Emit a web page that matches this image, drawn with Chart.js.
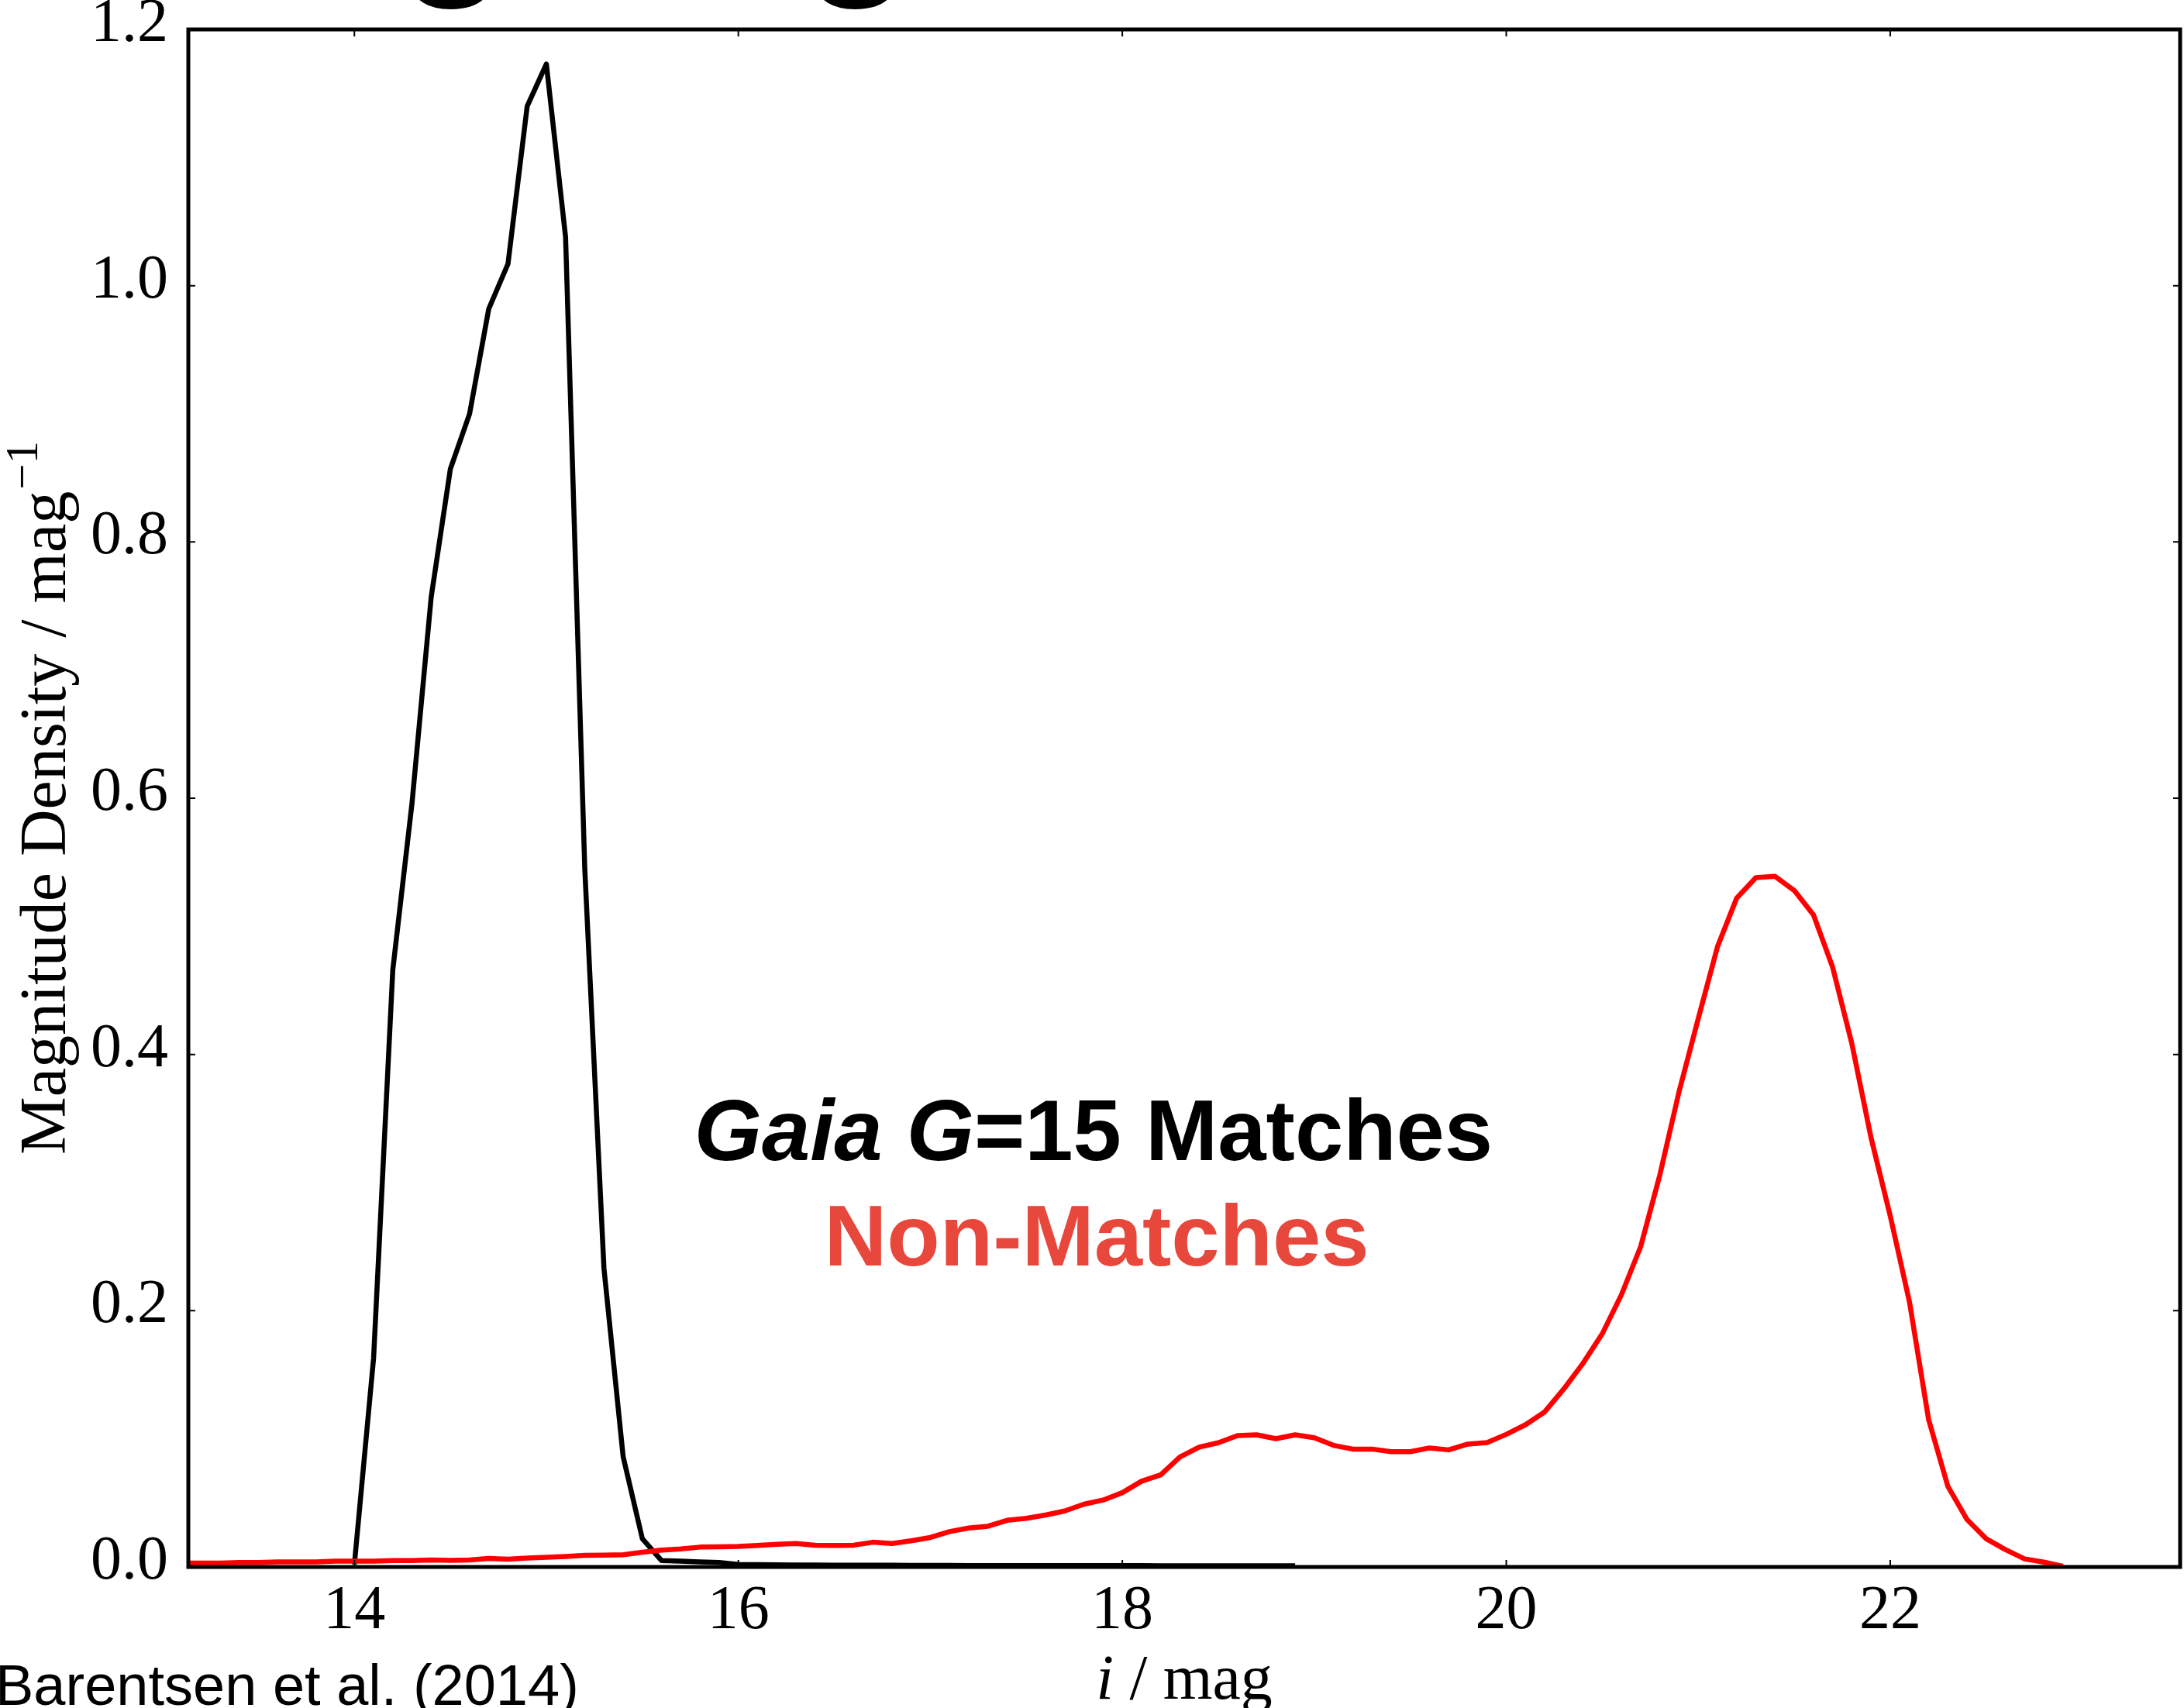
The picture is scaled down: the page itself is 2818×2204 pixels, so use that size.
<!DOCTYPE html>
<html>
<head>
<meta charset="utf-8">
<title>Magnitude density</title>
<script src="https://cdn.jsdelivr.net/npm/chart.js@4.4.1/dist/chart.umd.min.js"></script>
<style>
html, body { margin: 0; padding: 0; background: #fff; }
canvas { display: block; }
</style>
</head>
<body>
<canvas id="chartMag" width="2818" height="2204"></canvas>
<script>
// ==========================
// DATA
// ==========================

// Gaia G=15 matches (black)
const matchMag = [
  14.0, 14.1, 14.2, 14.3, 14.4, 14.5, 14.6, 14.7, 14.8, 14.9,
  15.0, 15.1, 15.2, 15.3, 15.4, 15.5, 15.6, 15.7, 15.8, 15.9,
  16.0, 16.1, 16.2, 16.3, 16.4, 16.5, 16.6, 16.7, 16.8, 16.9,
  17.0, 17.1, 17.2, 17.3, 17.4, 17.5, 17.6, 17.7, 17.8, 17.9,
  18.0, 18.1, 18.2, 18.3, 18.4, 18.5, 18.6, 18.7, 18.8, 18.9
];
const matchDensity = [
  0.002, 0.163, 0.466, 0.596, 0.757, 0.857, 0.900, 0.982, 1.017, 1.140,
  1.173, 1.038, 0.545, 0.233, 0.086, 0.022, 0.005, 0.0045, 0.004, 0.0035,
  0.002, 0.0018, 0.0016, 0.0015, 0.0015, 0.0014, 0.0014, 0.0013, 0.0013, 0.0012,
  0.0012, 0.0012, 0.0011, 0.0011, 0.0011, 0.001, 0.001, 0.001, 0.001, 0.001,
  0.001, 0.001, 0.0009, 0.0009, 0.0009, 0.0009, 0.0009, 0.0009, 0.0009, 0.0009
];

// Non-matches (red)
const nonMatchMag = [
  13.1, 13.2, 13.3, 13.4, 13.5, 13.6, 13.7, 13.8, 13.9,
  14.0, 14.1, 14.2, 14.3, 14.4, 14.5, 14.6, 14.7, 14.8, 14.9,
  15.0, 15.1, 15.2, 15.3, 15.4, 15.5, 15.6, 15.7, 15.8, 15.9,
  16.0, 16.1, 16.2, 16.3, 16.4, 16.5, 16.6, 16.7, 16.8, 16.9,
  17.0, 17.1, 17.2, 17.3, 17.4, 17.5, 17.6, 17.7, 17.8, 17.9,
  18.0, 18.1, 18.2, 18.3, 18.4, 18.5, 18.6, 18.7, 18.8, 18.9,
  19.0, 19.1, 19.2, 19.3, 19.4, 19.5, 19.6, 19.7, 19.8, 19.9,
  20.0, 20.1, 20.2, 20.3, 20.4, 20.5, 20.6, 20.7, 20.8, 20.9,
  21.0, 21.1, 21.2, 21.3, 21.4, 21.5, 21.6, 21.7, 21.8, 21.9,
  22.0, 22.1, 22.2, 22.3, 22.4, 22.5, 22.6, 22.7, 22.8, 22.9
];
const nonMatchDensity = [
  0.003, 0.003, 0.003, 0.0035, 0.0035, 0.004, 0.004, 0.004, 0.0045,
  0.0045, 0.0045, 0.005, 0.005, 0.0055, 0.0052, 0.0055, 0.0066, 0.006, 0.007,
  0.0075, 0.0082, 0.009, 0.0092, 0.0095, 0.0115, 0.0132, 0.014, 0.0155, 0.0157,
  0.016, 0.0168, 0.0177, 0.0183, 0.017, 0.0168, 0.017, 0.0193, 0.0183, 0.0204,
  0.023, 0.0276, 0.0304, 0.0318, 0.0364, 0.038, 0.0405, 0.0437, 0.049, 0.0522,
  0.058, 0.0669, 0.0719, 0.0858, 0.0935, 0.0969, 0.1025, 0.1031, 0.1001, 0.1031,
  0.1009, 0.0949, 0.092, 0.092, 0.090, 0.090, 0.0929, 0.0914, 0.0959, 0.0971,
  0.1035, 0.111, 0.121, 0.139, 0.159, 0.182, 0.2125, 0.250, 0.306, 0.371,
  0.428, 0.484, 0.522, 0.538, 0.539, 0.528, 0.509, 0.468, 0.4085, 0.335,
  0.274, 0.207, 0.115, 0.063, 0.037, 0.022, 0.0135, 0.0063, 0.0038, 0.0005
];

// axes
const xTickValues = [14, 16, 18, 20, 22];
const yTickValues = [0, 0.2, 0.4, 0.6, 0.8, 1.0, 1.2];
const xRange = [13.135, 23.51];
const yRange = [0, 1.2];


// ==========================
// HELPERS
// ==========================

function toPoints(xs, ys) {
  return xs.map(function (v, i) { return { x: v, y: ys[i] }; });
}

// draws pieces of text [text, font, colour] side by side, centred on cx
function drawRuns(ctx, runs, cx, baseline) {
  let total = 0;
  runs.forEach(function (r) { ctx.font = r[1]; total += ctx.measureText(r[0]).width; });
  let x = cx - total / 2;
  runs.forEach(function (r) {
    ctx.font = r[1];
    ctx.fillStyle = r[2];
    ctx.fillText(r[0], x, baseline);
    x += ctx.measureText(r[0]).width;
  });
}


// ==========================
// FRAME, TICKS AND TEXTS
// ==========================

const framePlugin = {
  id: "frameAndText",
  afterDraw(chart) {
    const ctx = chart.ctx;
    const a = chart.chartArea;
    const x = chart.scales.x;
    const y = chart.scales.y;

    ctx.save();

    // inward ticks on all four sides
    ctx.strokeStyle = "#000";
    ctx.lineWidth = 2;
    ctx.beginPath();
    xTickValues.forEach(function (v) {
      const px = x.getPixelForValue(v);
      ctx.moveTo(px, a.bottom); ctx.lineTo(px, a.bottom - 9);
      ctx.moveTo(px, a.top); ctx.lineTo(px, a.top + 9);
    });
    yTickValues.forEach(function (v) {
      const py = y.getPixelForValue(v);
      ctx.moveTo(a.left, py); ctx.lineTo(a.left + 9, py);
      ctx.moveTo(a.right, py); ctx.lineTo(a.right - 9, py);
    });
    ctx.stroke();

    // frame
    ctx.lineWidth = 5;
    ctx.strokeRect(a.left, a.top, a.right - a.left, a.bottom - a.top);

    ctx.textBaseline = "alphabetic";
    ctx.textAlign = "left";

    // title, mostly above the picture
    ctx.font = 'bold 229px "Liberation Sans"';
    ctx.fillStyle = "#000";
    const lead = ctx.measureText("Matchin").width + ctx.measureText("g").width / 2;
    ctx.fillText("Matching Magnitudes", 585 - lead, -36);

    // y axis title
    ctx.save();
    ctx.translate(84, 1490);
    ctx.rotate(-Math.PI / 2);
    ctx.font = '84px "Liberation Serif"';
    ctx.fillStyle = "#000";
    const main = "Magnitude Density / mag";
    ctx.fillText(main, 0, 0);
    const w = ctx.measureText(main).width;
    ctx.font = '59px "Liberation Serif"';
    ctx.fillText("\u22121", w + 2, -36);
    ctx.restore();

    // x axis title
    drawRuns(ctx, [
      ["i", 'italic 82px "Liberation Serif"', "#000"],
      [" / mag", '82px "Liberation Serif"', "#000"]
    ], (a.left + a.right) / 2, 2192);

    // annotations
    drawRuns(ctx, [
      ["Gaia", 'italic bold 112px "Liberation Sans"', "#000"],
      [" ", 'bold 112px "Liberation Sans"', "#000"],
      ["G", 'italic bold 112px "Liberation Sans"', "#000"],
      ["=15 Matches", 'bold 112px "Liberation Sans"', "#000"]
    ], 1411, 1497);
    drawRuns(ctx, [
      ["Non-Matches", 'bold 112px "Liberation Sans"', "#e8473b"]
    ], 1415, 1633);

    // credit
    ctx.font = '74px "Liberation Sans"';
    ctx.fillStyle = "#000";
    ctx.fillText("Barentsen et al. (2014)", -6, 2200);

    ctx.restore();
  }
};


// ==========================
// CHART
// ==========================

new Chart(
document.getElementById("chartMag"),
{
  type: "line",

  data: {
    datasets: [
      {
        label: "Non-Matches",
        data: toPoints(nonMatchMag, nonMatchDensity),
        borderColor: "#ff0000",
        borderWidth: 6.5,
        pointRadius: 0,
        tension: 0,
        fill: false,
        borderJoinStyle: "round",
        clip: 0
      },
      {
        label: "Gaia G=15 Matches",
        data: toPoints(matchMag, matchDensity),
        borderColor: "#000000",
        borderWidth: 6.5,
        pointRadius: 0,
        tension: 0,
        fill: false,
        borderJoinStyle: "round",
        clip: 0
      }
    ]
  },

  options: {
    responsive: false,
    animation: false,
    devicePixelRatio: 1,
    layout: { padding: { top: 38, right: 5, left: 0, bottom: 0 } },
    plugins: {
      legend: { display: false },
      tooltip: { enabled: false }
    },
    scales: {
      x: {
        type: "linear",
        min: xRange[0],
        max: xRange[1],
        grid: { display: false, drawTicks: false },
        border: { display: false },
        afterBuildTicks: function (s) {
          s.ticks = xTickValues.map(function (v) { return { value: v }; });
        },
        afterFit: function (s) {
          s.height = 182;
          s.paddingLeft = 0;
          s.paddingRight = 0;
        },
        ticks: {
          padding: 10,
          maxRotation: 0,
          autoSkip: false,
          color: "#000",
          font: { family: "Liberation Serif", size: 80 },
          callback: function (v) { return String(v); }
        }
      },
      y: {
        type: "linear",
        min: yRange[0],
        max: yRange[1],
        grid: { display: false, drawTicks: false },
        border: { display: false },
        afterBuildTicks: function (s) {
          s.ticks = yTickValues.map(function (v) { return { value: v }; });
        },
        afterFit: function (s) {
          s.width = 243;
          s.paddingTop = 0;
          s.paddingBottom = 0;
        },
        ticks: {
          padding: 26,
          labelOffset: -6,
          color: "#000",
          font: { family: "Liberation Serif", size: 80 },
          callback: function (v) { return v.toFixed(1); }
        }
      }
    }
  },

  plugins: [framePlugin]
});
</script>
</body>
</html>
